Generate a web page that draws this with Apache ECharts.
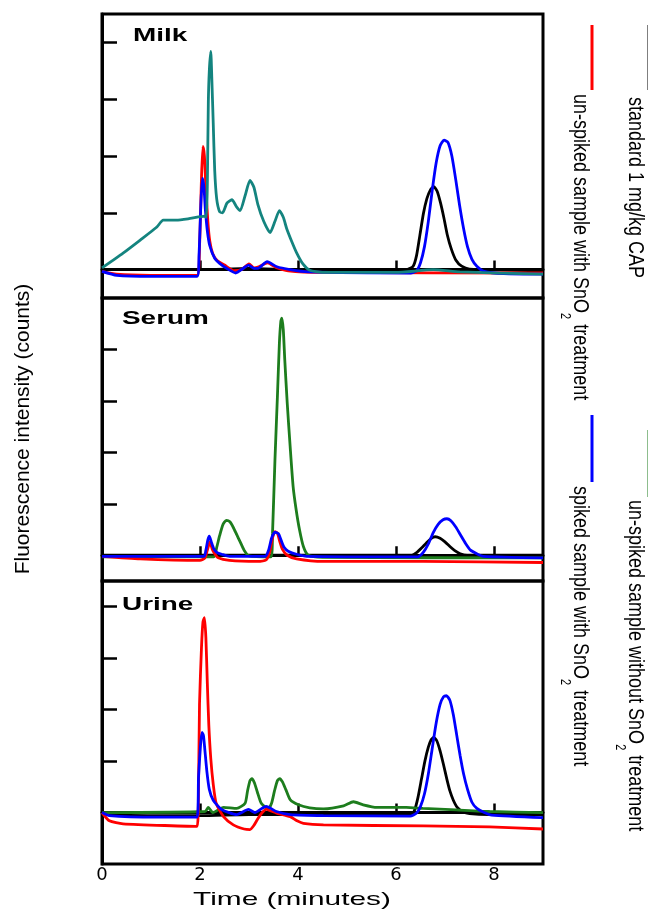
<!DOCTYPE html>
<html>
<head>
<meta charset="utf-8">
<title>CAP chromatograms</title>
<script src="https://cdn.jsdelivr.net/npm/echarts@6/dist/echarts.min.js"></script>
<style>
  html, body { margin: 0; padding: 0; background: #fff; }
  #main { width: 648px; height: 909px; }
</style>
</head>
<body>
<div id="main"></div>
<script>
// [time (minutes), intensity], one y tick = 1 unit
var milkStandard = [[0,0],[1,0],[2,0],[3,0.02],[4,0],[6.22,0],[6.35,0.06],[6.42,0.25],[6.49,0.62],[6.56,0.99],[6.63,1.25],[6.7,1.4],[6.77,1.46],[6.84,1.38],[6.91,1.17],[6.98,0.9],[7.05,0.6],[7.13,0.36],[7.22,0.17],[7.34,0.06],[7.5,0.01],[9,-0.02]];
var milkUnspikedSnO2 = [[0,-0.03],[0.3,-0.08],[1,-0.1],[1.94,-0.1],[1.99,0.4],[2.03,1.6],[2.06,2.17],[2.09,2.0],[2.12,1.45],[2.16,0.85],[2.2,0.5],[2.26,0.28],[2.35,0.16],[2.5,0.08],[2.7,-0.02],[2.85,0],[3,0.1],[3.1,0.03],[3.2,0.05],[3.38,0.12],[3.55,0.04],[3.8,-0.02],[4.5,-0.05],[9,-0.06]];
var milkSpikedSnO2 = [[0,-0.03],[0.3,-0.1],[1,-0.12],[1.94,-0.12],[1.98,0.25],[2.02,1.2],[2.05,1.61],[2.08,1.45],[2.11,1.05],[2.15,0.68],[2.2,0.42],[2.3,0.2],[2.4,0.11],[2.55,0.02],[2.73,-0.06],[2.88,0.02],[2.99,0.08],[3.1,0.02],[3.18,0.02],[3.37,0.14],[3.57,0.05],[3.84,0],[4.2,-0.04],[6.3,-0.06],[6.42,-0.02],[6.5,0.12],[6.58,0.4],[6.66,0.85],[6.74,1.4],[6.82,1.88],[6.9,2.18],[6.98,2.28],[7.06,2.24],[7.14,2.0],[7.22,1.58],[7.3,1.12],[7.38,0.72],[7.46,0.4],[7.55,0.18],[7.65,0.06],[7.8,-0.03],[8.2,-0.07],[9,-0.08]];
var milkUnspiked = [[0,0.03],[0.43,0.29],[0.78,0.52],[1.12,0.75],[1.25,0.87],[1.52,0.87],[1.8,0.9],[2.1,0.94],[2.13,0.92],[2.15,1.5],[2.17,2.94],[2.19,3.5],[2.22,3.84],[2.24,3.4],[2.27,2.58],[2.3,1.75],[2.34,1.25],[2.4,1.02],[2.46,1.0],[2.55,1.17],[2.65,1.23],[2.75,1.1],[2.82,1.04],[2.92,1.3],[3.02,1.57],[3.1,1.45],[3.18,1.15],[3.3,0.85],[3.43,0.65],[3.53,0.85],[3.62,1.04],[3.7,0.92],[3.77,0.72],[3.87,0.5],[3.97,0.3],[4.1,0.1],[4.24,-0.01],[4.5,-0.05],[6,-0.05],[6.76,0],[7.3,-0.04],[9,-0.08]];

var serumStandard = [[0,0],[6.32,0],[6.42,0.05],[6.52,0.14],[6.62,0.24],[6.72,0.33],[6.8,0.36],[6.9,0.33],[7.0,0.26],[7.1,0.17],[7.2,0.09],[7.31,0.03],[7.45,0],[9,0]];
var serumUnspikedSnO2 = [[0,-0.02],[0.78,-0.07],[2,-0.1],[2.1,-0.05],[2.15,0.1],[2.2,0.26],[2.25,0.12],[2.3,0.03],[2.37,-0.05],[2.6,-0.1],[3.16,-0.12],[3.35,-0.09],[3.42,0.05],[3.47,0.3],[3.53,0.46],[3.58,0.43],[3.63,0.26],[3.68,0.12],[3.78,0],[3.97,-0.07],[4.52,-0.12],[6.56,-0.12],[9,-0.14]];
var serumSpikedSnO2 = [[0,-0.02],[2.08,-0.02],[2.12,0.1],[2.16,0.3],[2.19,0.37],[2.23,0.26],[2.28,0.13],[2.35,0.05],[2.44,0.02],[2.6,-0.02],[3.33,-0.02],[3.4,0.1],[3.46,0.33],[3.53,0.45],[3.6,0.42],[3.66,0.28],[3.72,0.15],[3.8,0.08],[3.97,0.02],[4.18,-0.02],[6.45,-0.03],[6.56,0.06],[6.66,0.22],[6.76,0.44],[6.86,0.6],[6.96,0.69],[7.04,0.71],[7.12,0.67],[7.22,0.55],[7.32,0.39],[7.42,0.23],[7.52,0.1],[7.65,0.03],[7.78,-0.02],[9,-0.05]];
var serumUnspiked = [[0,-0.03],[2.28,-0.03],[2.34,0.15],[2.4,0.38],[2.47,0.6],[2.54,0.68],[2.61,0.65],[2.68,0.54],[2.75,0.4],[2.82,0.26],[2.9,0.1],[3.0,-0.01],[3.45,-0.03],[3.48,0.43],[3.53,1.86],[3.58,3.09],[3.62,4.12],[3.65,4.55],[3.67,4.61],[3.7,4.38],[3.73,3.8],[3.78,2.96],[3.84,2.11],[3.9,1.34],[3.96,0.9],[4.03,0.5],[4.11,0.17],[4.21,0],[4.5,-0.04],[9,-0.05]];

var urineStandard = [[0,-0.01],[0.3,-0.05],[2,-0.06],[3,-0.04],[6.31,-0.04],[6.38,0.05],[6.45,0.3],[6.52,0.65],[6.59,1.0],[6.66,1.27],[6.72,1.42],[6.77,1.46],[6.83,1.4],[6.9,1.2],[6.97,0.93],[7.04,0.64],[7.1,0.42],[7.17,0.24],[7.25,0.1],[7.36,0.02],[7.5,-0.02],[7.91,-0.04],[9,-0.04]];
var urineUnspikedSnO2 = [[0,0],[0.15,-0.16],[0.43,-0.22],[1.94,-0.27],[1.97,0.5],[1.99,2.11],[2.03,3.2],[2.06,3.7],[2.09,3.79],[2.12,3.4],[2.15,2.5],[2.18,1.7],[2.22,1.05],[2.27,0.55],[2.33,0.18],[2.48,-0.08],[2.68,-0.24],[2.9,-0.32],[3.02,-0.33],[3.1,-0.25],[3.18,-0.12],[3.27,0],[3.35,0.06],[3.45,0.03],[3.56,-0.01],[3.84,-0.08],[3.98,-0.16],[4.11,-0.21],[4.52,-0.24],[6.56,-0.26],[7.91,-0.28],[9,-0.32]];
var urineSpikedSnO2 = [[0,0],[0.15,-0.06],[1.12,-0.09],[1.94,-0.09],[1.97,0.69],[2.01,1.3],[2.04,1.56],[2.07,1.5],[2.1,1.21],[2.14,0.8],[2.19,0.45],[2.27,0.24],[2.44,0.06],[2.75,-0.04],[2.99,0.06],[3.12,0],[3.35,0.12],[3.56,0.02],[3.84,-0.04],[4.52,-0.06],[6.29,-0.07],[6.42,-0.01],[6.5,0.12],[6.58,0.36],[6.66,0.75],[6.74,1.25],[6.82,1.74],[6.9,2.1],[6.97,2.25],[7.03,2.27],[7.1,2.18],[7.17,1.9],[7.24,1.5],[7.31,1.1],[7.38,0.75],[7.46,0.45],[7.55,0.2],[7.65,0.08],[7.8,0],[7.95,-0.05],[9,-0.1]];
var urineUnspiked = [[0,0],[2.1,0.02],[2.17,0.1],[2.26,0],[2.48,0.1],[2.75,0.08],[2.92,0.18],[2.97,0.42],[3.02,0.62],[3.06,0.66],[3.11,0.58],[3.17,0.4],[3.25,0.18],[3.39,0.07],[3.46,0.18],[3.52,0.42],[3.58,0.62],[3.63,0.66],[3.68,0.6],[3.75,0.45],[3.84,0.25],[4.01,0.15],[4.24,0.09],[4.52,0.07],[4.93,0.13],[5.13,0.21],[5.33,0.15],[5.61,0.1],[6.21,0.1],[6.55,0.08],[7.23,0.05],[7.91,0.02],[9,0]];

var panelNames = ['Milk', 'Serum', 'Urine'];
var xLabels = [0, 2, 4, 6, 8];
var xTicks = [2, 4, 6, 8];
var yTicks = [1, 2, 3, 4];
var yRanges = [[-0.5, 4.5], [-0.5, 5], [-1, 4.5]];
var seriesNames = ['standard 1 mg/kg CAP', 'un-spiked sample with SnO2 treatment',
  'un-spiked sample without SnO2 treatment', 'spiked sample with SnO2 treatment'];

var chart = echarts.init(document.getElementById('main'));

var tops = [14, 298, 581];
var heights = [284, 283, 283];
var font = 'Liberation Sans, Arial, sans-serif';

var grids = [], xAxes = [], yAxes = [];
for (var i = 0; i < 3; i++) {
  grids.push({
    left: 102, width: 441, top: tops[i], height: heights[i],
    show: true, borderColor: '#000', borderWidth: 3
  });
  xAxes.push({
    type: 'value', gridIndex: i, min: 0, max: 9,
    splitLine: { show: false },
    axisLine: { lineStyle: { color: '#000', width: 3 } },
    axisTick: { inside: true, length: 9, customValues: xTicks, lineStyle: { color: '#000', width: 2.5 } },
    axisLabel: {
      show: i == 2, customValues: xLabels, margin: 2,
      color: '#000', fontSize: 18, fontFamily: 'DejaVu Sans'
    }
  });
  yAxes.push({
    type: 'value', gridIndex: i, min: yRanges[i][0], max: yRanges[i][1],
    splitLine: { show: false },
    axisLine: { lineStyle: { color: '#000', width: 3 } },
    axisTick: { inside: true, length: 15, customValues: yTicks, lineStyle: { color: '#000', width: 2.5 } },
    axisLabel: { show: false }
  });
}

function line(name, data, idx, color) {
  return {
    name: name, type: 'line', xAxisIndex: idx, yAxisIndex: idx,
    data: data, showSymbol: false, smooth: 0.2,
    lineStyle: { color: color, width: 2.8 }, itemStyle: { color: color }
  };
}

var teal = '#14847f', green = '#1d7d1d';
var series = [
  line(seriesNames[0], milkStandard, 0, '#000'),
  line(seriesNames[1], milkUnspikedSnO2, 0, '#ff0000'),
  line(seriesNames[3], milkSpikedSnO2, 0, '#0000ff'),
  line(seriesNames[2], milkUnspiked, 0, teal),
  line(seriesNames[0], serumStandard, 1, '#000'),
  line(seriesNames[2], serumUnspiked, 1, green),
  line(seriesNames[1], serumUnspikedSnO2, 1, '#ff0000'),
  line(seriesNames[3], serumSpikedSnO2, 1, '#0000ff'),
  line(seriesNames[0], urineStandard, 2, '#000'),
  line(seriesNames[2], urineUnspiked, 2, green),
  line(seriesNames[1], urineUnspikedSnO2, 2, '#ff0000'),
  line(seriesNames[3], urineSpikedSnO2, 2, '#0000ff')
];

// legend drawn rotated like the original (reads top to bottom)
var sub = { s: { fontSize: 11, fontFamily: font, padding: [24, 0, 0, 0] } };
function legendText(text, x, y) {
  return {
    type: 'text', x: x, y: y, rotation: -Math.PI / 2, scaleY: 1.25,
    style: { text: text, font: '18px ' + font, fill: '#000', align: 'left', verticalAlign: 'middle', rich: sub }
  };
}
function legendLine(x, y1, y2, color) {
  return { type: 'line', shape: { x1: x, y1: y1, x2: x, y2: y2 }, style: { stroke: color, lineWidth: 3 } };
}

var graphic = [
  { type: 'text', x: 133, y: 36, scaleX: 1.55, style: { text: panelNames[0], font: 'bold 18px ' + font, fill: '#000', verticalAlign: 'middle' } },
  { type: 'text', x: 122, y: 319, scaleX: 1.55, style: { text: panelNames[1], font: 'bold 18px ' + font, fill: '#000', verticalAlign: 'middle' } },
  { type: 'text', x: 122, y: 605, scaleX: 1.55, style: { text: panelNames[2], font: 'bold 18px ' + font, fill: '#000', verticalAlign: 'middle' } },
  { type: 'text', x: 292, y: 900, scaleX: 1.57, style: { text: 'Time (minutes)', font: '19px ' + font, fill: '#000', align: 'center', verticalAlign: 'middle' } },
  { type: 'text', x: 23, y: 429, rotation: Math.PI / 2, style: { text: 'Fluorescence intensity (counts)', font: '21px ' + font, fill: '#000', align: 'center', verticalAlign: 'middle' } },
  legendLine(649, 25, 90, '#000'),
  legendText('standard 1 mg/kg CAP', 635, 97),
  legendLine(592, 25, 90, '#ff0000'),
  legendText('un-spiked sample with SnO{s|2} treatment', 580, 94),
  legendLine(649, 430, 497, green),
  legendText('un-spiked sample without SnO{s|2} treatment', 635, 500),
  legendLine(592, 415, 482, '#0000ff'),
  legendText('spiked sample with SnO{s|2} treatment', 580, 486)
];

chart.setOption({
  animation: false,
  backgroundColor: '#fff',
  grid: grids,
  xAxis: xAxes,
  yAxis: yAxes,
  series: series,
  graphic: graphic
});
</script>
</body>
</html>
